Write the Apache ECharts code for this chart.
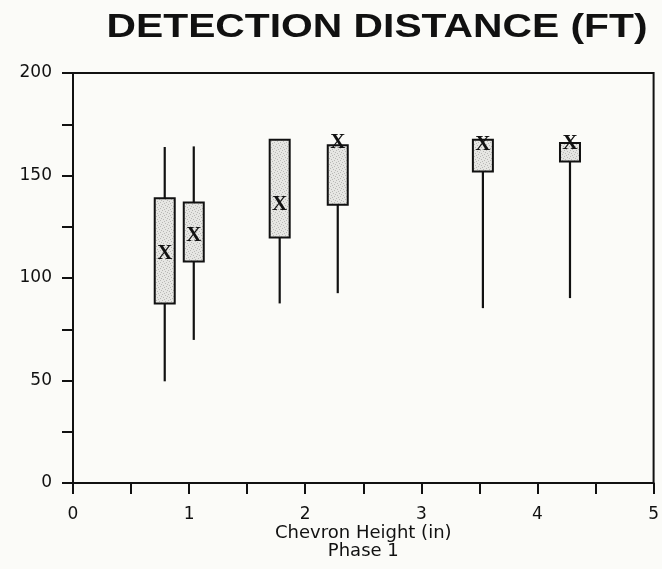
<!DOCTYPE html>
<html>
<head>
<meta charset="utf-8">
<script src="https://cdn.jsdelivr.net/npm/echarts@6/dist/echarts.min.js"></script>
<style>
  html, body { margin: 0; padding: 0; background: #fbfbf8; }
  #chart { width: 662px; height: 569px; }
</style>
</head>
<body>
<div id="chart"></div>
<script>
// Chevron heights (in) and detection distance statistics (ft)
const chevronHeight = [0.79, 1.04, 1.78, 2.28, 3.53, 4.28];
const whiskerLow    = [49.6, 69.8, 87.6, 92.6, 85.3, 90.2];
const boxLow        = [87.6, 108.0, 119.7, 135.7, 152.0, 156.8];
const boxHigh       = [138.9, 136.8, 167.4, 164.7, 167.4, 165.8];
const whiskerHigh   = [163.9, 164.2, 167.4, 164.7, 167.4, 165.8];
const meanValue     = [111.9, 120.8, 135.7, 166.1, 165.0, 165.8];

const xTicks = [0, 1, 2, 3, 4, 5];
const yTicks = [0, 50, 100, 150, 200];

// Stippled grey fill used inside the boxes
function makeStipple() {
  const c = document.createElement('canvas');
  c.width = 6; c.height = 6;
  const g = c.getContext('2d');
  g.fillStyle = '#e6e6e3';
  g.fillRect(0, 0, 6, 6);
  g.fillStyle = '#b9b9b6';
  [[0, 0], [3, 1], [1, 3], [4, 4], [5, 2], [2, 5]].forEach(p => g.fillRect(p[0], p[1], 1, 1));
  return c;
}
const stipple = { image: makeStipple(), repeat: 'repeat' };

const boxData = chevronHeight.map((x, i) =>
  [x, whiskerLow[i], boxLow[i], boxHigh[i], whiskerHigh[i], meanValue[i]]);

const chart = echarts.init(document.getElementById('chart'), null, { renderer: 'canvas' });

const axisFont = { fontFamily: 'DejaVu Sans', fontSize: 17, color: '#111' };

chart.setOption({
  backgroundColor: '#fbfbf8',
  animation: false,
  graphic: [{
    type: 'text',
    x: 377,
    y: 28,
    scaleX: 1.2,
    style: {
      text: 'DETECTION DISTANCE (FT)',
      font: 'bold 34px "Liberation Sans"',
      fill: '#111',
      textAlign: 'center',
      textVerticalAlign: 'middle'
    }
  }],
  grid: {
    left: 73, top: 73, right: 8, bottom: 86,
    show: true, borderColor: '#111', borderWidth: 2, backgroundColor: 'transparent'
  },
  xAxis: {
    type: 'value',
    min: xTicks[0], max: xTicks[xTicks.length - 1], interval: 1,
    name: 'Chevron Height (in)\nPhase 1',
    nameLocation: 'middle',
    nameGap: 41,
    nameMoveOverlap: false,
    nameTextStyle: { fontFamily: 'DejaVu Sans', fontSize: 18, lineHeight: 18, color: '#111' },
    axisLine: { show: true, lineStyle: { color: '#111', width: 2 } },
    axisTick: { show: true, length: 11, lineStyle: { color: '#111', width: 2 } },
    minorTick: { show: true, splitNumber: 2, length: 11, lineStyle: { color: '#111', width: 2 } },
    axisLabel: Object.assign({ margin: 23 }, axisFont),
    splitLine: { show: false }
  },
  yAxis: {
    type: 'value',
    min: yTicks[0], max: yTicks[yTicks.length - 1], interval: 50,
    axisLine: { show: true, lineStyle: { color: '#111', width: 2 } },
    axisTick: { show: true, length: 11, lineStyle: { color: '#111', width: 2 } },
    minorTick: { show: true, splitNumber: 2, length: 11, lineStyle: { color: '#111', width: 2 } },
    axisLabel: Object.assign({ margin: 21 }, axisFont),
    splitLine: { show: false }
  },
  series: [{
    type: 'custom',
    data: boxData,
    encode: { x: 0, y: [1, 2, 3, 4, 5] },
    renderItem: function (params, api) {
      const x = api.value(0);
      const pWL = api.coord([x, api.value(1)]);
      const pBL = api.coord([x, api.value(2)]);
      const pBH = api.coord([x, api.value(3)]);
      const pWH = api.coord([x, api.value(4)]);
      const pM  = api.coord([x, api.value(5)]);
      const half = 10;
      const children = [];
      // lower whisker
      children.push({
        type: 'line',
        shape: { x1: pBL[0], y1: pBL[1], x2: pWL[0], y2: pWL[1] },
        style: { stroke: '#111', lineWidth: 2.2 }
      });
      // upper whisker
      if (pWH[1] < pBH[1] - 0.5) {
        children.push({
          type: 'line',
          shape: { x1: pBH[0], y1: pBH[1], x2: pWH[0], y2: pWH[1] },
          style: { stroke: '#111', lineWidth: 2.2 }
        });
      }
      // box
      children.push({
        type: 'rect',
        shape: { x: pBH[0] - half, y: pBH[1], width: half * 2, height: pBL[1] - pBH[1] },
        style: { fill: stipple, stroke: '#111', lineWidth: 2 }
      });
      // mean marker
      children.push({
        type: 'text',
        x: pM[0], y: pM[1],
        style: {
          text: 'X',
          font: 'bold 21px "Liberation Serif"',
          fill: '#111',
          textAlign: 'center',
          textVerticalAlign: 'middle'
        }
      });
      return { type: 'group', children: children };
    }
  }]
});
</script>
</body>
</html>
